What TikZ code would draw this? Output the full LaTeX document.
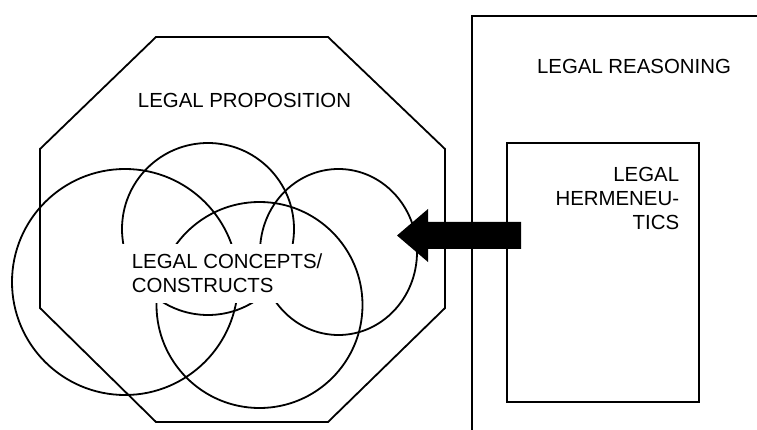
\documentclass[tikz,border=0pt]{standalone}
\usepackage{fontspec}
\setmainfont{Liberation Sans}
\begin{document}
\begin{tikzpicture}[x=1pt, y=-1pt, line width=1.8pt, font=\fontsize{20.4}{24}\selectfont]
\useasboundingbox (0,0) rectangle (757,430);
\clip (0,0) rectangle (757,430);
\draw (156,37)--(328,37)--(445,149)--(445,308)--(328,422)--(156,422)--(40,308)--(40,149)--cycle;
\node (proposition) at (244.5,100) {LEGAL PROPOSITION};
\foreach \cx/\cy/\r in {125/282/113, 208/229/86, 259.5/305/103}
{
    \draw (\cx,\cy) circle(\r pt);
}
\draw (338.5,252) ellipse(78.5pt and 83pt);
\node (concepts) at (121,243)[anchor=north west, fill=white, align=left, inner sep=10pt]{LEGAL CONCEPTS/\\CONSTRUCTS};
\draw (472,440)--(472,16)--(770,16);
\node (reasoning) at (634,66){LEGAL REASONING};
\draw (507,143) rectangle (699,402);
\node (hermeneutics) at (680,166)[anchor=north east, align=right, inner sep=0pt]{LEGAL\\HERMENEU-\\TICS};
\fill (521,222)--(428,222)--(428,209)--(397,235.5)--(428,262)--(428,249)--(521,249)--cycle;
\end{tikzpicture}
\end{document}
